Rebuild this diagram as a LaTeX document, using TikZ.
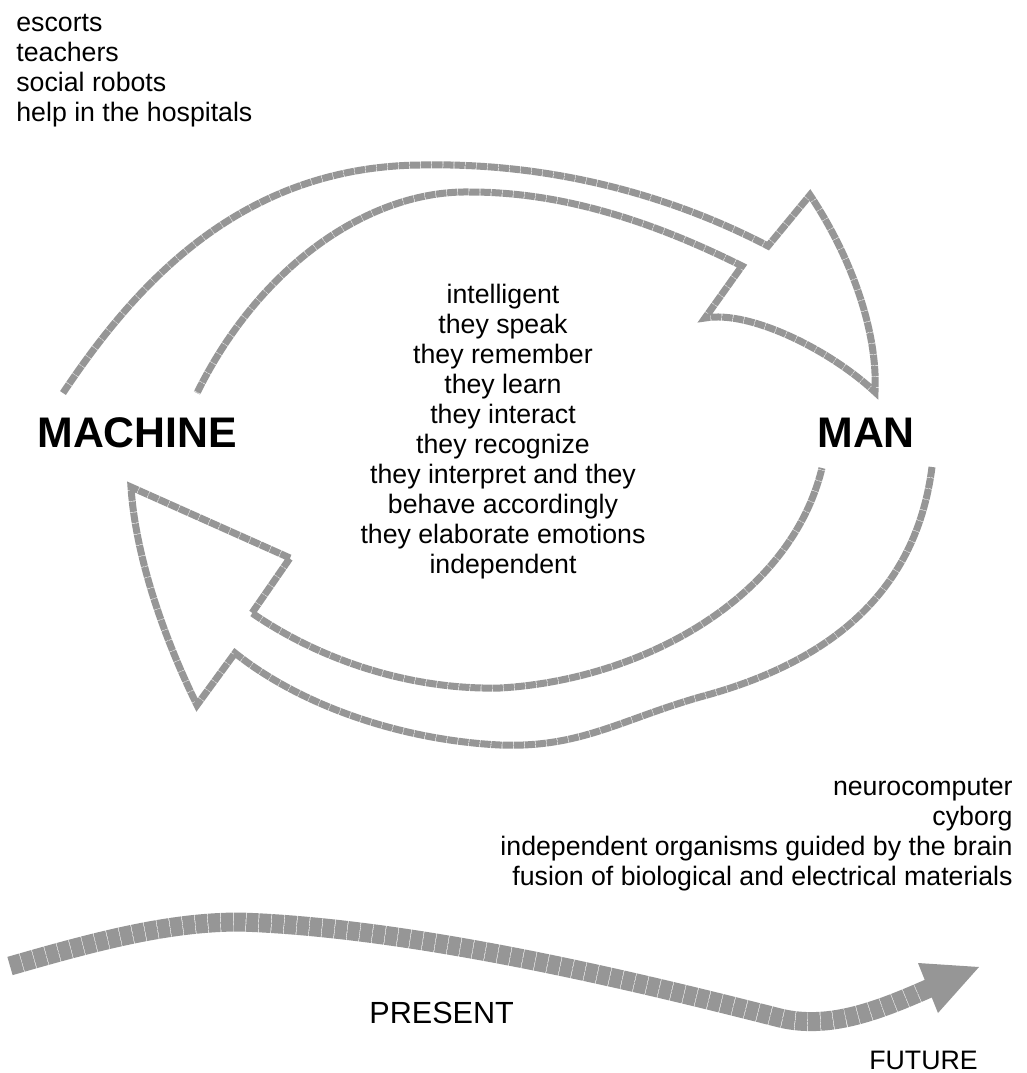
\documentclass[tikz,border=0pt]{standalone}
\usepackage{fontspec}
\setmainfont{Liberation Sans}
\definecolor{arrowgray}{RGB}{150,150,150}
\definecolor{ticklight}{RGB}{190,190,190}
\begin{document}
\begin{tikzpicture}[x=0.5pt,y=-0.5pt,
  ring/.style={draw=arrowgray, line width=3.5pt, line join=miter, line cap=butt,
    dash pattern=on 5.2pt off 0.35pt, preaction={draw=ticklight, solid}},
  band/.style={draw=arrowgray, line width=9.5pt, line cap=butt,
    dash pattern=on 6pt off 0.35pt, preaction={draw=ticklight, solid}},
  txt/.style={inner sep=0pt, font=\fontsize{13.35}{15}\selectfont},
  big/.style={inner sep=0pt, font=\fontsize{21.4}{25}\selectfont\bfseries}]
\useasboundingbox (0,0) rectangle (1027,1073);

% top arrow (machine -> man)
\draw[ring] (63,393) .. controls (135,285) and (240,167) .. (420,165)
  .. controls (560,162) and (680,200) .. (768,246)
  -- (810,195) .. controls (850,255) and (878,330) .. (875,392)
  .. controls (830,350) and (750,310) .. (705,318)
  -- (742,266) .. controls (650,220) and (560,192) .. (470,192)
  .. controls (370,190) and (260,265) .. (197,393);

% bottom arrow (man -> machine)
\draw[ring] (932,467) .. controls (915,600) and (820,665) .. (700,697)
  .. controls (620,720) and (580,748) .. (500,745)
  .. controls (400,740) and (300,705) .. (235,653)
  -- (197,705) .. controls (160,630) and (135,550) .. (131,487)
  -- (290,558) -- (252,613)
  .. controls (320,660) and (410,690) .. (500,688)
  .. controls (640,680) and (790,600) .. (822,468);

% present -> future band
\draw[band] (10,966) .. controls (100,940) and (170,922) .. (240,922)
  .. controls (420,928) and (650,985) .. (780,1018)
  .. controls (830,1030) and (880,1010) .. (932,987);
\fill[arrowgray] (918,963) -- (979,967) -- (938,1013) -- cycle;

% texts
\node[txt, anchor=north west, align=left] (roles) at (16,10)
  {\strut escorts\\teachers\\social robots\\help in the hospitals};
\node[txt, anchor=north, align=center] (traits) at (503,282)
  {\strut intelligent\\they speak\\they remember\\they learn\\they interact\\they recognize\\they interpret and they\\behave accordingly\\they elaborate emotions\\independent};
\node[txt, anchor=north east, align=right] (future) at (1013,774)
  {\strut neurocomputer\\cyborg\\independent organisms guided by the brain\\fusion of biological and electrical materials};
\node[big, anchor=base west] (machine) at (37,447) {MACHINE};
\node[big, anchor=base west] (man) at (817,447) {MAN};
\node[inner sep=0pt, font=\fontsize{15.3}{18}\selectfont, anchor=base west] (present) at (369,1023) {PRESENT};
\node[txt, anchor=base west] (futurelbl) at (869,1069) {FUTURE};
\end{tikzpicture}
\end{document}
